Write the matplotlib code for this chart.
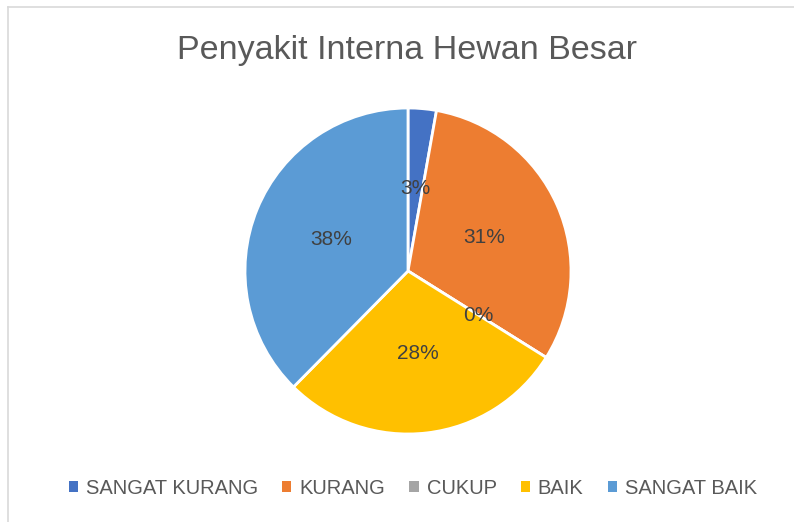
import matplotlib
matplotlib.use("Agg")
import matplotlib.pyplot as plt
from matplotlib.patches import Patch
from matplotlib.lines import Line2D
import numpy as np

categories = ["SANGAT KURANG", "KURANG", "CUKUP", "BAIK", "SANGAT BAIK"]
values = [2.8, 31.1, 0.0, 28.5, 37.6]
labels_pct = ["3%", "31%", "0%", "28%", "38%"]
colors = ["#4472C4", "#ED7D31", "#A5A5A5", "#FFC000", "#5B9BD5"]
title = "Penyakit Interna Hewan Besar"

plt.rcParams['font.family'] = ['Liberation Sans', 'DejaVu Sans']

W, H = 794, 522
fig = plt.figure(figsize=(W / 100, H / 100), dpi=100)

# chart border (cut off at right and bottom)
fig.add_artist(Line2D([8 / W, 1], [1 - 7 / H, 1 - 7 / H], color="#d9d9d9", lw=1.2))
fig.add_artist(Line2D([8 / W, 8 / W], [1 - 7 / H, 0], color="#d9d9d9", lw=1.2))

cx, cy, r = 408, 271, 163
ax = fig.add_axes([(cx - r) / W, (H - cy - r) / H, 2 * r / W, 2 * r / H])
wedges, _ = ax.pie(values, colors=colors, startangle=90, counterclock=False,
                   wedgeprops=dict(edgecolor="white", linewidth=2))
ax.set_xlim(-1, 1)
ax.set_ylim(-1, 1)
ax.set_aspect("equal")
ax.axis("off")

cum = np.cumsum([0] + values)
tot = sum(values)
for i, lab in enumerate(labels_pct):
    mid = (cum[i] + cum[i + 1]) / 2 / tot * 360
    ang = np.deg2rad(90 - mid)
    d = 0.51
    ax.text(d * np.cos(ang), d * np.sin(ang), lab, ha="center", va="center",
            fontsize=15, color="#404040")

fig.text(407 / W, 1 - 51 / H, title, ha="center", va="center", fontsize=24.5, color="#595959")

handles = [Patch(facecolor=c, edgecolor="none") for c in colors]
fig.legend(handles, categories, loc="center", bbox_to_anchor=(413 / W, 1 - 488 / H), ncol=5,
           frameon=False, fontsize=14.5, handlelength=0.45, handleheight=0.45,
           handletextpad=0.4, columnspacing=1.2, labelcolor="#595959")

fig.savefig("out.png", dpi=100, facecolor="white")
